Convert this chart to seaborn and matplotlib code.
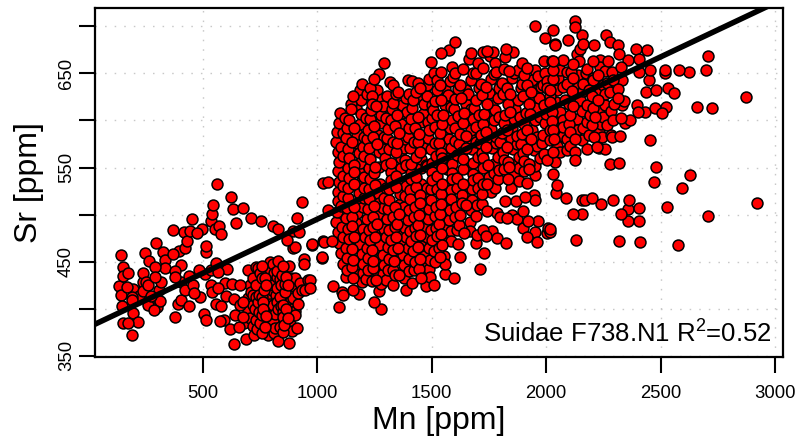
"""
Sr against Mn scatter for Suidae F738.N1, with regression line.
"""

import matplotlib

matplotlib.use("Agg")
import matplotlib.pyplot as plt
import pandas as pd
import seaborn as sns

# points, (Mn, Sr)
left_group = [
    (140, 457), (149, 444), (173, 438), (151, 435), (134, 424), (170, 423), (195, 421), (140, 415),
    (188, 412), (220, 414), (191, 409), (147, 403), (195, 395), (149, 385), (173, 385), (217, 386),
    (188, 372), (245, 459), (264, 451), (239, 438), (290, 444), (336, 452), (326, 460), (294, 470),
    (367, 484), (418, 481), (453, 495), (443, 483), (472, 480), (498, 485), (533, 493), (540, 501),
    (546, 510), (552, 485), (571, 488), (581, 479), (561, 532), (622, 519), (631, 506), (677, 507),
    (644, 491), (712, 496), (752, 493), (804, 488), (830, 485), (931, 513), (909, 496), (895, 483),
    (919, 481), (868, 473), (902, 466), (895, 464), (975, 468), (1030, 471), (1021, 454), (941, 453),
    (941, 448), (1026, 534), (1047, 535), (1047, 505), (431, 472), (421, 465), (396, 461), (370, 458),
    (336, 443), (377, 440), (377, 434), (406, 446), (438, 435), (484, 441), (508, 437), (513, 467),
    (513, 460), (556, 449), (537, 441), (567, 439), (603, 442), (239, 428), (249, 428), (290, 434),
    (316, 428), (309, 420), (261, 425), (239, 419), (275, 414), (312, 408), (261, 404), (297, 402),
    (285, 399), (406, 428), (421, 420), (457, 425), (462, 417), (487, 412), (406, 409), (389, 405),
    (438, 403), (377, 391), (504, 394), (513, 388), (537, 425), (567, 422), (540, 418), (596, 427),
    (625, 426), (661, 425), (599, 413), (635, 410), (661, 404), (556, 405), (581, 403), (574, 387),
    (591, 388), (640, 393), (618, 378), (658, 381), (679, 385),
]
lower_cluster = [
    (698, 441), (720, 433), (741, 443), (749, 438), (734, 444), (795, 450), (829, 451), (807, 447),
    (877, 445), (825, 440), (865, 434), (902, 433), (924, 427), (960, 430), (945, 420), (916, 417),
    (877, 420), (843, 425), (807, 425), (775, 425), (734, 425), (712, 418), (698, 411), (720, 404),
    (756, 412), (793, 414), (836, 412), (895, 411), (902, 398), (865, 400), (807, 404), (763, 400),
    (727, 400), (698, 398), (676, 391), (734, 388), (756, 393), (800, 393), (851, 391), (902, 393),
    (880, 384), (836, 381), (804, 387), (771, 381), (720, 382), (724, 372), (690, 368), (637, 363),
    (829, 366), (875, 364), (909, 380), (822, 434), (785, 434), (756, 433), (778, 441), (836, 432),
    (800, 420), (851, 404), (676, 407), (705, 425), (880, 407), (931, 420), (741, 407), (822, 407),
    (858, 418), (790, 440), (850, 445), (760, 445), (745, 415), (780, 410), (820, 415), (870, 425),
    (890, 420), (720, 415), (790, 395), (830, 400), (870, 390), (750, 385), (815, 380), (770, 433),
    (812, 438), (845, 436), (885, 433), (765, 420), (790, 422), (825, 422), (860, 426), (900, 424),
    (730, 412), (762, 407), (795, 405), (840, 403), (885, 400), (915, 405), (745, 397), (775, 392),
    (815, 394), (850, 396), (885, 393), (790, 383), (855, 383), (705, 390), (735, 378), (760, 374),
    (785, 372), (810, 374), (850, 375), (890, 376),
]
upper_edge = [
    (1293, 661), (1270, 649), (1249, 644), (1194, 639), (1187, 632), (1157, 626), (1230, 635), (1318, 641),
    (1329, 638), (1354, 630), (1388, 624), (1398, 643), (1412, 642), (1481, 638), (1471, 635), (1449, 634),
    (1522, 643), (1497, 662), (1539, 672), (1576, 675), (1602, 683), (1587, 657), (1592, 646), (1672, 672),
    (1664, 665), (1723, 673), (1740, 674), (1769, 673), (1755, 669), (1825, 676), (1857, 673), (1820, 667),
    (1777, 661), (1704, 661), (1893, 661), (1839, 653), (1918, 656), (1992, 663), (2027, 663), (2032, 654),
    (1950, 700), (1995, 688), (2029, 696), (2039, 680), (1966, 647), (2002, 642),
]
right_sparse = [
    (2126, 706), (2126, 699), (2158, 691), (2163, 681), (2148, 676), (2136, 671), (2209, 680), (2260, 691),
    (2281, 683), (2313, 680), (2319, 671), (2393, 676), (2442, 675), (2094, 686), (2037, 681), (2359, 664),
    (2405, 665), (2709, 668), (2699, 654), (2582, 654), (2623, 652), (2520, 654), (2520, 650), (2454, 654),
    (2406, 652), (2450, 643), (2435, 630), (2480, 632), (2533, 635), (2559, 629), (2874, 625), (2661, 614),
    (2724, 613), (2399, 616), (2403, 609), (2432, 609), (2475, 613), (2524, 614), (2507, 608), (2367, 600),
    (2345, 597), (2326, 603), (2291, 600), (2323, 584), (2287, 582), (2282, 585), (2454, 579), (2257, 570),
    (2233, 571), (2221, 572), (2177, 570), (2126, 558), (2126, 566), (2090, 569), (2039, 556), (2279, 554),
    (2320, 555), (2479, 551), (2630, 542), (2594, 528), (2472, 535), (2923, 512), (2708, 499), (2530, 508),
    (2032, 543), (2049, 531), (2043, 523), (2087, 518), (2158, 515), (2170, 516), (2202, 518), (2238, 511),
    (2294, 516), (2364, 516), (2406, 507), (2359, 506), (2327, 501), (2119, 501), (2155, 501), (2359, 493),
    (2407, 493), (2017, 485), (2017, 482), (2131, 473), (2320, 472), (2410, 471), (2574, 468),
]
right_dense = [
    (2236, 664), (2206, 663), (2272, 663), (2236, 657), (2180, 655), (2144, 663), (2116, 660), (2032, 663),
    (2061, 654), (2090, 652), (2141, 648), (2206, 645), (2257, 653), (2289, 651), (2327, 657), (2330, 643),
    (2294, 643), (2250, 638), (2206, 643), (2163, 639), (2119, 645), (2090, 639), (2053, 645), (2017, 632),
    (2046, 632), (2112, 631), (2163, 631), (2199, 626), (2228, 622), (2279, 630), (2316, 633), (2316, 624),
    (2338, 621), (2330, 616), (2257, 616), (2206, 613), (2177, 616), (2119, 615), (2061, 609), (2104, 606),
    (2134, 602), (2214, 604), (2250, 604), (2024, 609), (2024, 599), (2075, 601), (2075, 593), (2160, 592),
    (2199, 595), (2265, 595), (2233, 588), (2185, 585), (2126, 580), (2075, 583), (2104, 573), (2046, 573),
    (2017, 579), (2243, 582), (2155, 579), (2046, 588), (2104, 588), (2083, 622), (2148, 622), (2017, 620),
    (2072, 664), (2110, 652), (2175, 650), (2225, 648), (2268, 640), (2072, 636), (2140, 636), (2185, 632),
    (2235, 632), (2258, 628), (2295, 618), (2042, 620), (2100, 618), (2158, 610), (2192, 606), (2232, 612),
    (2285, 610), (2045, 600), (2100, 596), (2180, 598), (2238, 596), (2035, 580), (2090, 580), (2135, 590),
    (2210, 582), (2060, 566), (2030, 566),
]
lower_edge = [
    (1847, 528), (1820, 514), (1868, 514), (1908, 519), (1947, 521), (1951, 515), (1900, 504), (1849, 500),
    (1871, 495), (1828, 496), (1784, 502), (1798, 497), (1740, 504), (1922, 493), (1965, 493), (1900, 486),
    (1951, 481), (2007, 486), (2005, 480), (1918, 476), (1962, 471), (1787, 475), (1823, 470), (1762, 483),
    (1726, 484), (1699, 478), (1694, 470), (1737, 477), (1616, 469), (1729, 459), (1622, 455), (1711, 442),
    (1596, 433), (1558, 437), (1510, 425), (1475, 424), (1492, 434), (1452, 433), (1412, 427), (1386, 420),
    (1380, 433), (1271, 419), (1240, 429), (1256, 431), (1157, 433), (1125, 434), (1070, 424), (1106, 418),
    (1114, 415), (1157, 420), (1182, 416), (1096, 402), (1248, 407), (1277, 400), (1022, 455), (1026, 472),
    (1063, 472), (978, 469), (968, 431), (968, 422), (1758, 524), (1740, 533),
]
main_cloud = [
    (1440, 640), (1490, 644), (1535, 638), (1580, 642), (1625, 638), (1670, 643), (1715, 639), (1760, 644),
    (1805, 640), (1850, 645), (1895, 639), (1940, 643), (1985, 638), (2030, 644), (1540, 651), (1635, 655),
    (1680, 650), (1725, 656), (1770, 649), (1815, 655), (1860, 650), (1905, 648), (1950, 654), (1995, 650),
    (1215, 628), (1262, 632), (1305, 626), (1432, 630), (1478, 626), (1525, 632), (1570, 627), (1615, 633),
    (1660, 628), (1708, 634), (1750, 629), (1796, 635), (1842, 628), (1888, 634), (1935, 630), (1978, 636),
    (1145, 618), (1190, 622), (1238, 617), (1282, 623), (1330, 619), (1372, 616), (1420, 622), (1465, 617),
    (1512, 621), (1558, 616), (1603, 623), (1650, 618), (1695, 622), (1740, 617), (1788, 624), (1832, 618),
    (1878, 622), (1925, 617), (1970, 624), (2015, 626), (1100, 608), (1145, 612), (1190, 607), (1235, 611),
    (1280, 606), (1325, 612), (1370, 608), (1415, 613), (1460, 607), (1505, 611), (1550, 606), (1595, 612),
    (1640, 608), (1685, 613), (1730, 607), (1775, 611), (1820, 606), (1865, 612), (1910, 608), (1955, 613),
    (2000, 607), (1095, 597), (1140, 601), (1185, 596), (1230, 602), (1275, 597), (1320, 601), (1365, 596),
    (1410, 602), (1455, 598), (1500, 603), (1545, 596), (1590, 601), (1635, 597), (1680, 602), (1725, 596),
    (1770, 601), (1815, 597), (1860, 602), (1905, 596), (1950, 601), (1995, 597), (1085, 588), (1130, 592),
    (1175, 586), (1220, 590), (1265, 585), (1310, 591), (1355, 587), (1400, 592), (1445, 586), (1490, 590),
    (1535, 587), (1580, 592), (1625, 586), (1670, 590), (1715, 585), (1760, 591), (1805, 587), (1850, 592),
    (1895, 586), (1940, 590), (1985, 585), (2030, 590), (1082, 577), (1125, 581), (1170, 576), (1215, 580),
    (1260, 575), (1305, 581), (1350, 576), (1395, 582), (1440, 577), (1485, 581), (1530, 576), (1575, 580),
    (1620, 575), (1665, 581), (1710, 576), (1755, 582), (1800, 577), (1845, 581), (1890, 575), (1935, 580),
    (1980, 576), (1090, 566), (1135, 570), (1180, 565), (1225, 571), (1270, 566), (1315, 570), (1360, 565),
    (1405, 571), (1450, 566), (1495, 570), (1540, 565), (1585, 571), (1630, 566), (1675, 570), (1720, 565),
    (1765, 571), (1810, 566), (1855, 570), (1900, 565), (1945, 569), (1990, 564), (1095, 556), (1140, 560),
    (1185, 555), (1230, 559), (1320, 555), (1365, 560), (1410, 554), (1455, 559), (1500, 555), (1545, 560),
    (1590, 554), (1635, 559), (1680, 555), (1725, 560), (1770, 554), (1815, 558), (1860, 553), (1905, 557),
    (1950, 552), (2005, 558), (1090, 546), (1135, 550), (1180, 545), (1225, 549), (1270, 551), (1320, 545),
    (1365, 549), (1410, 544), (1455, 549), (1500, 545), (1545, 550), (1590, 544), (1635, 548), (1680, 543),
    (1725, 549), (1770, 544), (1815, 548), (1860, 543), (1905, 546), (1950, 542), (1095, 535), (1140, 539),
    (1185, 534), (1230, 538), (1275, 533), (1320, 537), (1365, 532), (1410, 538), (1455, 533), (1500, 537),
    (1545, 532), (1590, 538), (1635, 533), (1680, 537), (1725, 532), (1790, 538), (1880, 536), (1090, 524),
    (1135, 528), (1180, 523), (1225, 527), (1270, 522), (1315, 527), (1360, 522), (1405, 526), (1450, 521),
    (1495, 527), (1540, 522), (1585, 526), (1630, 521), (1675, 527), (1720, 522), (1090, 514), (1135, 518),
    (1180, 513), (1225, 517), (1270, 512), (1315, 516), (1360, 511), (1405, 517), (1450, 512), (1495, 516),
    (1540, 511), (1585, 517), (1630, 512), (1675, 516), (1720, 511), (1085, 503), (1130, 507), (1175, 502),
    (1220, 506), (1265, 501), (1310, 506), (1355, 501), (1400, 505), (1445, 500), (1490, 506), (1535, 501),
    (1580, 505), (1625, 500), (1670, 505), (1082, 492), (1125, 496), (1170, 491), (1215, 495), (1260, 490),
    (1305, 495), (1350, 490), (1395, 494), (1440, 489), (1485, 495), (1530, 490), (1575, 494), (1620, 489),
    (1665, 492), (1090, 481), (1135, 485), (1180, 480), (1225, 484), (1270, 479), (1315, 484), (1360, 479),
    (1405, 483), (1450, 478), (1495, 484), (1540, 479), (1585, 483), (1640, 480), (1095, 470), (1140, 474),
    (1185, 469), (1230, 473), (1275, 468), (1320, 473), (1365, 468), (1410, 472), (1455, 467), (1500, 473),
    (1545, 468), (1585, 472), (1105, 459), (1150, 463), (1195, 458), (1240, 462), (1285, 457), (1330, 462),
    (1375, 457), (1420, 461), (1465, 456), (1510, 461), (1555, 456), (1110, 448), (1155, 452), (1200, 447),
    (1245, 451), (1290, 446), (1335, 451), (1380, 446), (1425, 450), (1470, 445), (1515, 450), (1560, 447),
    (1130, 441), (1175, 437), (1220, 441), (1265, 437), (1310, 441), (1355, 436), (1400, 440), (1445, 442),
    (1490, 442), (1195, 428), (1300, 430), (1330, 425),
]
main_fill = [
    (1510, 650), (1560, 633), (1602, 650), (1650, 632), (1692, 650), (1738, 636), (1782, 652), (1830, 635),
    (1875, 654), (1918, 638), (1960, 632), (2005, 634), (1238, 626), (1285, 615), (1345, 628), (1400, 628),
    (1455, 623), (1500, 616), (1542, 622), (1585, 614), (1628, 624), (1672, 612), (1718, 627), (1762, 616),
    (1810, 628), (1855, 616), (1900, 626), (1948, 621), (1992, 616), (1122, 603), (1168, 613), (1212, 603),
    (1258, 615), (1302, 603), (1348, 606), (1392, 609), (1438, 604), (1482, 598), (1525, 606), (1570, 598),
    (1615, 605), (1660, 598), (1705, 606), (1750, 603), (1795, 604), (1840, 609), (1885, 604), (1930, 607),
    (1975, 604), (2018, 590), (1112, 587), (1158, 592), (1202, 582), (1248, 594), (1292, 582), (1338, 594),
    (1382, 580), (1425, 592), (1468, 583), (1512, 593), (1558, 583), (1602, 592), (1648, 584), (1692, 593),
    (1738, 588), (1782, 582), (1828, 590), (1872, 584), (1918, 590), (1962, 582), (1105, 572), (1150, 577),
    (1198, 572), (1242, 582), (1285, 570), (1332, 577), (1378, 571), (1422, 577), (1468, 571), (1512, 576),
    (1558, 571), (1602, 578), (1648, 571), (1692, 577), (1738, 572), (1782, 576), (1828, 572), (1872, 575),
    (1918, 570), (1962, 573), (1112, 562), (1158, 553), (1205, 562), (1250, 551), (1295, 560), (1342, 566),
    (1385, 558), (1430, 561), (1475, 553), (1520, 562), (1565, 550), (1610, 563), (1655, 552), (1700, 561),
    (1745, 553), (1790, 561), (1835, 556), (1880, 561), (1925, 554), (1972, 560), (1110, 541), (1158, 545),
    (1202, 540), (1248, 544), (1298, 553), (1342, 541), (1388, 553), (1432, 540), (1478, 552), (1522, 541),
    (1568, 548), (1612, 539), (1658, 550), (1702, 539), (1748, 551), (1792, 547), (1838, 551), (1882, 549),
    (1925, 548), (1112, 530), (1158, 533), (1205, 528), (1252, 531), (1298, 528), (1342, 529), (1388, 530),
    (1432, 529), (1478, 528), (1522, 527), (1568, 530), (1612, 528), (1658, 530), (1702, 528), (1752, 540),
    (1835, 538), (1915, 534), (1112, 520), (1158, 508), (1202, 518), (1248, 509), (1292, 518), (1338, 508),
    (1382, 520), (1428, 508), (1472, 518), (1518, 508), (1562, 518), (1608, 508), (1652, 521), (1698, 510),
    (1775, 528), (1105, 509), (1150, 497), (1198, 508), (1242, 497), (1288, 507), (1332, 497), (1378, 508),
    (1422, 497), (1468, 506), (1512, 498), (1558, 508), (1602, 497), (1648, 510), (1695, 498), (1108, 487),
    (1152, 488), (1198, 485), (1245, 487), (1292, 485), (1338, 487), (1382, 486), (1428, 486), (1472, 487),
    (1518, 486), (1562, 488), (1612, 484), (1668, 483), (1112, 476), (1162, 476), (1208, 476), (1252, 476),
    (1298, 476), (1342, 476), (1388, 476), (1432, 477), (1478, 476), (1522, 477), (1565, 476), (1125, 464),
    (1172, 466), (1218, 465), (1262, 464), (1308, 466), (1352, 465), (1398, 464), (1442, 466), (1488, 464),
    (1532, 464), (1130, 454), (1178, 452), (1222, 454), (1268, 452), (1312, 453), (1358, 453), (1402, 453),
    (1448, 453), (1492, 452), (1535, 455), (1150, 444), (1198, 438), (1242, 443), (1288, 437), (1332, 441),
    (1378, 438), (1422, 441), (1468, 437), (1212, 432), (1280, 426), (1340, 436),
]

line_mn = [28, 3035]
line_sr = [383.5, 729]

x_ticks = [500, 1000, 1500, 2000, 2500, 3000]
y_ticks = [350, 400, 450, 500, 550, 600, 650, 700]
y_tick_labels = ["350", "", "450", "", "550", "", "650", ""]

points = pd.DataFrame(
    left_group + lower_cluster + upper_edge + right_sparse + right_dense + lower_edge + main_cloud + main_fill,
    columns=["Mn", "Sr"],
)
# later rows are painted on top, so mix the groups instead of stacking them
points = points.sort_values("Mn", key=lambda s: s % 97)

sns.set_style("ticks")
plt.rcParams["font.family"] = ["Liberation Sans", "DejaVu Sans"]
plt.rcParams["mathtext.default"] = "regular"
plt.rcParams["text.color"] = "black"
plt.rcParams["axes.labelcolor"] = "black"
plt.rcParams["xtick.labelcolor"] = "black"
plt.rcParams["ytick.labelcolor"] = "black"

fig = plt.figure(figsize=(7.99, 4.45), dpi=100)
ax = fig.add_axes([94.5 / 799, 1 - 356.5 / 445, 688.5 / 799, 348.5 / 445])

sns.scatterplot(
    data=points, x="Mn", y="Sr", color="#ff0000", edgecolor="black",
    linewidth=1.1, s=62, ax=ax, zorder=3,
)
sns.lineplot(x=line_mn, y=line_sr, color="black", linewidth=4.0, ax=ax, zorder=4)

ax.set_xlim(26, 3035)
ax.set_ylim(349.2, 719.5)
ax.set_xticks(x_ticks)
ax.set_yticks(y_ticks)
ax.set_yticklabels(y_tick_labels, rotation=90, va="center")
ax.tick_params(axis="both", length=11.5, width=1.5, color="black", labelsize=13.3)
ax.tick_params(axis="x", pad=9)
ax.tick_params(axis="y", pad=2.5)
ax.grid(True, color="#c8c8c8", linestyle=(0, (1.1, 5.8)), linewidth=1.0)
ax.set_axisbelow(True)

for spine in ax.spines.values():
    spine.set_visible(True)
    spine.set_linewidth(1.6)
    spine.set_color("black")

ax.set_xlabel("Mn [ppm]", fontsize=23, labelpad=3)
ax.set_ylabel("Sr [ppm]", fontsize=23, labelpad=10)
ax.text(2987, 364, "Suidae F738.N1 R$^{2}$=0.52", fontsize=18.5, ha="right", va="baseline", zorder=5)

fig.savefig("out.png", dpi=100)
